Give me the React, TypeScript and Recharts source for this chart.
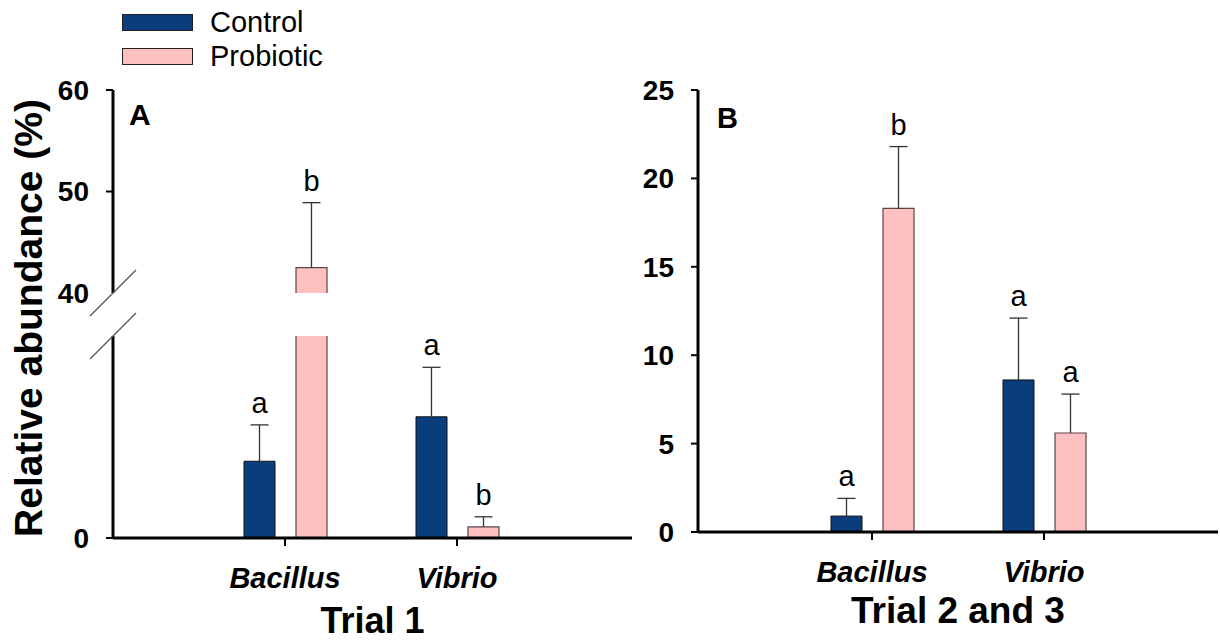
import { BarChart, Bar, XAxis, YAxis, Legend } from "recharts";

const FONT = "'Liberation Sans', Arial, sans-serif";
const CONTROL_COLOR = "#0A3D7B";
const PROBIOTIC_COLOR = "#FFC0C1";

const CATEGORIES = ["Bacillus", "Vibrio"];

// Trial 1 (panel A)
const T1_CONTROL = [7.6, 12.0];
const T1_CONTROL_ERR = [3.6, 4.9];
const T1_PROBIOTIC = [42.5, 1.1];
const T1_PROBIOTIC_ERR = [6.4, 1.0];
const T1_CONTROL_LETTERS = ["a", "a"];
const T1_PROBIOTIC_LETTERS = ["b", "b"];

// Trial 2 and 3 (panel B)
const T2_CONTROL = [0.9, 8.6];
const T2_CONTROL_ERR = [1.0, 3.5];
const T2_PROBIOTIC = [18.3, 5.6];
const T2_PROBIOTIC_ERR = [3.5, 2.2];
const T2_CONTROL_LETTERS = ["a", "a"];
const T2_PROBIOTIC_LETTERS = ["b", "a"];

// broken axis of panel A
const A_LOWER_MAX = 20;
const A_UPPER_MIN = 40;
const A_UPPER_TICKS = [40, 50, 60];
const A_LOWER_TICKS = [0, 20];
const B_TICKS = [0, 5, 10, 15, 20, 25];

type Row = {
  name: string;
  control: number | null;
  controlErr: number | null;
  probiotic: number | null;
  probioticErr: number | null;
  controlLetter: string;
  probioticLetter: string;
  controlCut?: boolean;
  probioticCut?: boolean;
};

function makeRows(
  ctl: number[],
  ctlErr: number[],
  pro: number[],
  proErr: number[],
  ctlLet: string[],
  proLet: string[]
): Row[] {
  return CATEGORIES.map((name, i) => ({
    name,
    control: ctl[i],
    controlErr: ctlErr[i],
    probiotic: pro[i],
    probioticErr: proErr[i],
    controlLetter: ctlLet[i],
    probioticLetter: proLet[i],
  }));
}

const t1Rows = makeRows(
  T1_CONTROL,
  T1_CONTROL_ERR,
  T1_PROBIOTIC,
  T1_PROBIOTIC_ERR,
  T1_CONTROL_LETTERS,
  T1_PROBIOTIC_LETTERS
);
const t2Rows = makeRows(
  T2_CONTROL,
  T2_CONTROL_ERR,
  T2_PROBIOTIC,
  T2_PROBIOTIC_ERR,
  T2_CONTROL_LETTERS,
  T2_PROBIOTIC_LETTERS
);

const reaches = (v: number | null) => v != null && v >= A_UPPER_MIN;
const over = (v: number | null) => v != null && v > A_LOWER_MAX;

// upper part of the break: only values that reach it
const t1Upper: Row[] = t1Rows.map((r) => ({
  ...r,
  control: reaches(r.control) ? r.control : null,
  controlErr: reaches(r.control) ? r.controlErr : null,
  probiotic: reaches(r.probiotic) ? r.probiotic : null,
  probioticErr: reaches(r.probiotic) ? r.probioticErr : null,
}));

// lower part: bars above the break are cut at the top of the segment
const t1Lower: Row[] = t1Rows.map((r) => ({
  ...r,
  control: r.control != null ? Math.min(r.control, A_LOWER_MAX) : null,
  controlErr: over(r.control) ? null : r.controlErr,
  controlCut: over(r.control),
  probiotic: r.probiotic != null ? Math.min(r.probiotic, A_LOWER_MAX) : null,
  probioticErr: over(r.probiotic) ? null : r.probioticErr,
  probioticCut: over(r.probiotic),
}));

const TICK_SIZE = 7;
const TICK_MARGIN = 17;

// bar without a bottom edge, and without a top edge where it is cut by the break
const barShape = (cutKey: string) => (props: any) => {
  const { x, y, width, height, fill, stroke, strokeWidth, payload } = props;
  if (!(height > 0)) return <g />;
  const cut = payload && payload[cutKey];
  const d = cut
    ? `M${x},${y + height}V${y}M${x + width},${y}V${y + height}`
    : `M${x},${y + height}V${y}H${x + width}V${y + height}`;
  return (
    <g>
      <rect x={x} y={y} width={width} height={height} fill={fill} />
      <path d={d} fill="none" stroke={stroke} strokeWidth={strokeWidth} />
    </g>
  );
};

const errShape = (errKey: string, letterKey: string) => (props: any) => {
  const { x, y, width, height, payload } = props;
  if (!payload || payload[errKey] == null || !(height > 0)) return <g />;
  const cx = x + width / 2;
  return (
    <g>
      <line x1={cx} x2={cx} y1={y + height} y2={y} stroke="#333" strokeWidth={1.3} />
      <line x1={cx - 9} x2={cx + 9} y1={y} y2={y} stroke="#333" strokeWidth={1.3} />
      <text
        x={cx}
        y={y - 12}
        textAnchor="middle"
        fontSize={29}
        fontFamily={FONT}
        fill="#000"
      >
        {payload[letterKey]}
      </text>
    </g>
  );
};

// y tick for the broken axis: the value at the break gets a slash
const brokenTick = (breakValue: number, showBreakLabel: boolean) => (props: any) => {
  const { x, y, payload } = props;
  const axisX = x + TICK_SIZE + TICK_MARGIN;
  const isBreak = payload.value === breakValue;
  return (
    <g>
      {isBreak ? (
        <line
          x1={axisX - 23}
          y1={y + 23}
          x2={axisX + 23}
          y2={y - 23}
          stroke="#555"
          strokeWidth={1.3}
        />
      ) : (
        <line x1={axisX - TICK_SIZE} x2={axisX} y1={y} y2={y} stroke="#000" strokeWidth={2} />
      )}
      {(!isBreak || showBreakLabel) && (
        <text
          x={x}
          y={y}
          dy="0.355em"
          textAnchor="end"
          fontSize={28}
          fontWeight="bold"
          fontFamily={FONT}
          fill="#000"
        >
          {payload.value}
        </text>
      )}
    </g>
  );
};

const LegendBox = (props: any) => {
  const items = (props.payload || []).filter((p: any) => p.type !== "none");
  return (
    <div style={{ fontFamily: FONT }}>
      {items.map((p: any) => (
        <div
          key={p.value}
          style={{ display: "flex", alignItems: "center", height: 34 }}
        >
          <span
            style={{
              display: "inline-block",
              width: 69,
              height: 15,
              background: p.color,
              border: "1px solid #222",
              marginRight: 17,
            }}
          />
          <span style={{ fontSize: 29, color: "#000" }}>{p.value}</span>
        </div>
      ))}
    </div>
  );
};

const axisLine = { stroke: "#000", strokeWidth: 3 };

function seriesBars() {
  return [
    <Bar
      key="c"
      dataKey="control"
      name="Control"
      stackId="c"
      fill={CONTROL_COLOR}
      stroke="#111"
      strokeWidth={1}
      shape={barShape("controlCut")}
      isAnimationActive={false}
    />,
    <Bar
      key="ce"
      dataKey="controlErr"
      stackId="c"
      fill="none"
      legendType="none"
      shape={errShape("controlErr", "controlLetter")}
      isAnimationActive={false}
    />,
    <Bar
      key="p"
      dataKey="probiotic"
      name="Probiotic"
      stackId="p"
      fill={PROBIOTIC_COLOR}
      stroke="#5a4545"
      strokeWidth={1.2}
      shape={barShape("probioticCut")}
      isAnimationActive={false}
    />,
    <Bar
      key="pe"
      dataKey="probioticErr"
      stackId="p"
      fill="none"
      legendType="none"
      shape={errShape("probioticErr", "probioticLetter")}
      isAnimationActive={false}
    />,
  ];
}

export default function App() {
  return (
    <div
      style={{
        position: "absolute",
        left: 0,
        top: 0,
        width: 1220,
        height: 641,
        background: "#fff",
        fontFamily: FONT,
      }}
    >
      {/* Panel A, upper segment (40-60) */}
      <div style={{ position: "absolute", left: 0, top: 0 }}>
        <BarChart
          width={640}
          height={330}
          data={t1Upper}
          margin={{ top: 90, right: 8, bottom: 37, left: 0 }}
          barSize={31}
          barGap={21}
        >
          <XAxis dataKey="name" hide padding={{ left: 86, right: 89 }} />
          <YAxis
            type="number"
            domain={[A_UPPER_MIN, 60]}
            allowDataOverflow
            ticks={A_UPPER_TICKS}
            interval={0}
            width={113}
            axisLine={axisLine}
            tickLine={false}
            tickSize={TICK_SIZE}
            tickMargin={TICK_MARGIN}
            tick={brokenTick(A_UPPER_MIN, true)}
          />
          {seriesBars()}
          <Legend
            layout="vertical"
            align="center"
            verticalAlign="middle"
            content={<LegendBox />}
            wrapperStyle={{ position: "absolute", top: 5, left: 122, width: 260 }}
          />
        </BarChart>
      </div>

      {/* Panel A, lower segment (0-20) */}
      <div style={{ position: "absolute", left: 0, top: 300 }}>
        <BarChart
          width={640}
          height={341}
          data={t1Lower}
          margin={{ top: 36, right: 8, bottom: 8, left: 0 }}
          barSize={31}
          barGap={21}
        >
          <XAxis
            dataKey="name"
            height={95}
            padding={{ left: 86, right: 89 }}
            axisLine={axisLine}
            tickLine={{ stroke: "#000", strokeWidth: 2 }}
            tickSize={8}
            tickMargin={21}
            tick={{
              fill: "#000",
              fontSize: 29,
              fontWeight: "bold",
              fontStyle: "italic",
              fontFamily: FONT,
            }}
            label={{
              value: "Trial 1",
              position: "insideBottom",
              offset: 0,
              fill: "#000",
              fontSize: 36,
              fontWeight: "bold",
              fontFamily: FONT,
            }}
          />
          <YAxis
            type="number"
            domain={[0, A_LOWER_MAX]}
            ticks={A_LOWER_TICKS}
            interval={0}
            width={113}
            axisLine={axisLine}
            tickLine={false}
            tickSize={TICK_SIZE}
            tickMargin={TICK_MARGIN}
            tick={brokenTick(A_LOWER_MAX, false)}
          />
          {seriesBars()}
        </BarChart>
      </div>

      {/* Panel B */}
      <div style={{ position: "absolute", left: 600, top: 0 }}>
        <BarChart
          width={620}
          height={641}
          data={t2Rows}
          margin={{ top: 90, right: 2, bottom: 8, left: 0 }}
          barSize={31}
          barGap={21}
        >
          <XAxis
            dataKey="name"
            height={101}
            padding={{ left: 88, right: 88 }}
            axisLine={axisLine}
            tickLine={{ stroke: "#000", strokeWidth: 2 }}
            tickSize={8}
            tickMargin={21}
            tick={{
              fill: "#000",
              fontSize: 29,
              fontWeight: "bold",
              fontStyle: "italic",
              fontFamily: FONT,
            }}
            label={{
              value: "Trial 2 and 3",
              position: "insideBottom",
              offset: 10,
              fill: "#000",
              fontSize: 37,
              fontWeight: "bold",
              fontFamily: FONT,
            }}
          />
          <YAxis
            type="number"
            domain={[0, 25]}
            ticks={B_TICKS}
            interval={0}
            width={98}
            axisLine={axisLine}
            tickLine={{ stroke: "#000", strokeWidth: 2 }}
            tickSize={TICK_SIZE}
            tickMargin={TICK_MARGIN}
            tick={{ fill: "#000", fontSize: 28, fontWeight: "bold", fontFamily: FONT }}
          />
          {seriesBars()}
        </BarChart>
      </div>

      {/* shared texts */}
      <svg
        width={1220}
        height={641}
        style={{ position: "absolute", left: 0, top: 0, pointerEvents: "none" }}
      >
        <text
          transform="translate(42,318) rotate(-90)"
          textAnchor="middle"
          fontSize={39}
          fontWeight="bold"
          fontFamily={FONT}
          fill="#000"
        >
          Relative abundance (%)
        </text>
        <text x={129} y={125} fontSize={30} fontWeight="bold" fontFamily={FONT} fill="#000">
          A
        </text>
        <text x={717} y={128} fontSize={29} fontWeight="bold" fontFamily={FONT} fill="#000">
          B
        </text>
      </svg>
    </div>
  );
}
